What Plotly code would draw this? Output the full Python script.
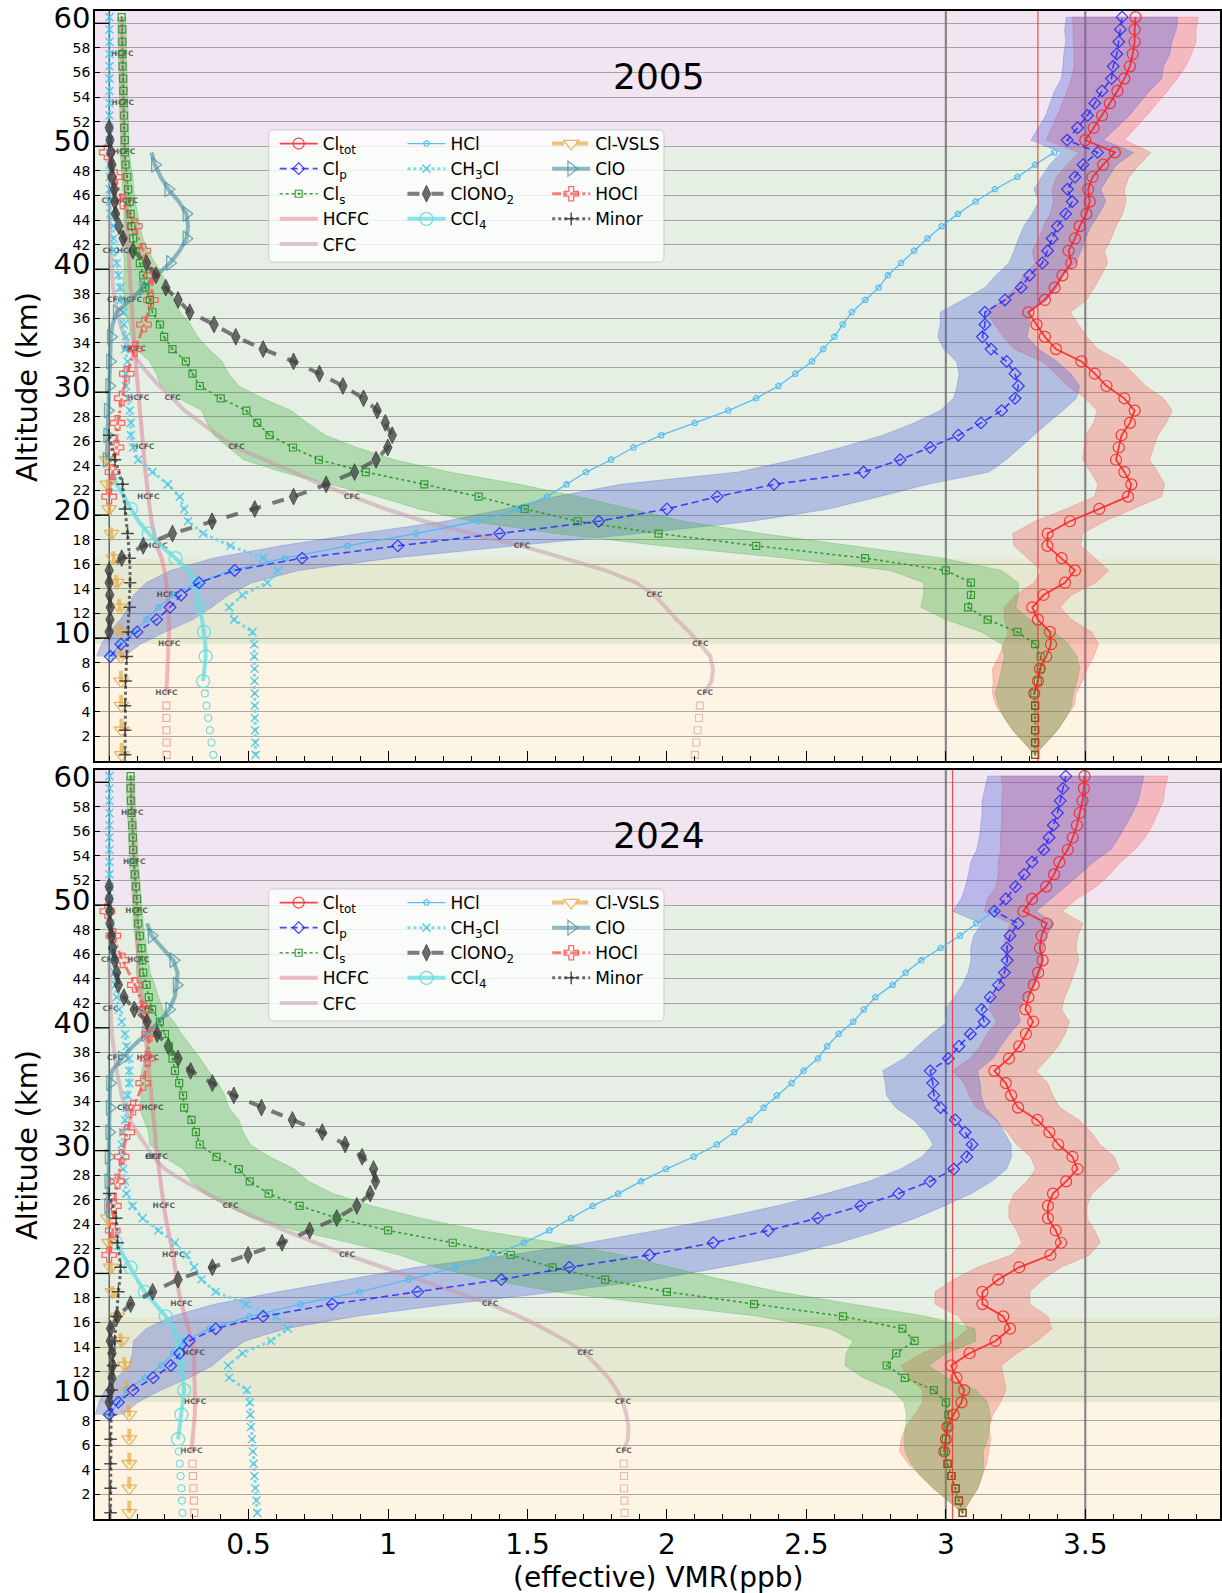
import plotly.graph_objects as go

# ---------------- altitude grid (km) ----------------
ALT = [0.5, 1.5, 2.5, 3.5, 4.5, 5.5, 6.5, 7.5, 8.5, 9.5,
       10.5, 11.5, 12.5, 13.5, 14.5, 15.5, 16.5, 17.5, 18.5, 19.5,
       20.5, 21.5, 22.5, 23.5, 24.5, 25.5, 26.5, 27.5, 28.5, 29.5,
       30.5, 31.5, 32.5, 33.5, 34.5, 35.5, 36.5, 37.5, 38.5, 39.5,
       40.5, 41.5, 42.5, 43.5, 44.5, 45.5, 46.5, 47.5, 48.5, 49.5,
       50.5, 51.5, 52.5, 53.5, 54.5, 55.5, 56.5, 57.5, 58.5, 59.5, 60.5]

X_TICKS = [0.5, 1, 1.5, 2, 2.5, 3, 3.5]
X_TICK_TEXT = ["0.5", "1", "1.5", "2", "2.5", "3", "3.5"]
Y_TICKS = [2, 4, 6, 8, 10, 12, 14, 16, 18, 20, 22, 24, 26, 28, 30,
           32, 34, 36, 38, 40, 42, 44, 46, 48, 50, 52, 54, 56, 58, 60]
YEARS = ["2005", "2024"]
REF_LINES = [3.0, 3.5]
RED_LINE = [3.33, 3.024]

# ---------------- 2005 ----------------
CLTOT_05 = [3.32, 3.32, 3.32, 3.32, 3.32, 3.317, 3.33, 3.337, 3.36, 3.377,
            3.373, 3.33, 3.31, 3.35, 3.427, 3.463, 3.415, 3.364, 3.365, 3.445,
            3.55, 3.653, 3.665, 3.64, 3.61, 3.62, 3.63, 3.66, 3.677, 3.64,
            3.576, 3.534, 3.486, 3.395, 3.355, 3.325, 3.296, 3.355, 3.39, 3.418,
            3.45, 3.44, 3.463, 3.48, 3.504, 3.516, 3.51, 3.526, 3.564, 3.606,
            3.50, 3.53, 3.56, 3.588, 3.615, 3.64, 3.66, 3.67, 3.677, 3.677, 3.68]
CLTOT_ERR_05 = [0.0, 0.04, 0.08, 0.11, 0.14, 0.15, 0.16, 0.17, 0.17, 0.17,
                0.15, 0.12, 0.1, 0.1, 0.11, 0.12, 0.12, 0.12, 0.125, 0.125,
                0.12, 0.12, 0.12, 0.12, 0.12, 0.125, 0.13, 0.13, 0.135, 0.14,
                0.14, 0.14, 0.14, 0.15, 0.15, 0.15, 0.15, 0.15, 0.14, 0.14,
                0.13, 0.13, 0.13, 0.13, 0.13, 0.13, 0.13, 0.13, 0.13, 0.13,
                0.14, 0.15, 0.16, 0.17, 0.18, 0.19, 0.2, 0.21, 0.22, 0.22, 0.225]
CLP_05 = [0.004, 0.042, 0.1, 0.17, 0.218, 0.258, 0.322, 0.45, 0.692, 1.035,
          1.40, 1.755, 2.0, 2.18, 2.384, 2.705, 2.836, 2.944, 3.045, 3.126,
          3.2, 3.248, 3.26, 3.248, 3.218, 3.162, 3.131, 3.14, 3.14, 3.212,
          3.27, 3.30, 3.346, 3.365, 3.381, 3.40, 3.43, 3.453, 3.436, 3.463,
          3.492, 3.544, 3.435, 3.472, 3.508, 3.534, 3.56, 3.594, 3.60, 3.613,
          3.62, 3.626, 3.632]
CLP_ERR_05 = [0.05, 0.07, 0.1, 0.13, 0.15, 0.17, 0.19, 0.23, 0.32, 0.42,
              0.5, 0.55, 0.58, 0.58, 0.55, 0.45, 0.38, 0.32, 0.27, 0.24,
              0.22, 0.22, 0.22, 0.2, 0.18, 0.17, 0.16, 0.16, 0.16, 0.15,
              0.13, 0.12, 0.12, 0.12, 0.12, 0.12, 0.12, 0.12, 0.12, 0.12,
              0.12, 0.13, 0.13, 0.14, 0.15, 0.16, 0.17, 0.18, 0.18, 0.19,
              0.19, 0.2, 0.2]
CLS_05 = [3.32, 3.32, 3.32, 3.32, 3.32, 3.317, 3.33, 3.34, 3.34, 3.32,
          3.257, 3.15, 3.08, 3.09, 3.09, 3.0, 2.71, 2.32, 1.97, 1.68,
          1.49, 1.325, 1.13, 0.92, 0.752, 0.659, 0.575, 0.531, 0.492, 0.40,
          0.325, 0.299, 0.275, 0.227, 0.197, 0.182, 0.155, 0.146, 0.13, 0.122,
          0.11, 0.095, 0.086, 0.08, 0.077, 0.074, 0.068, 0.065, 0.059, 0.056,
          0.056, 0.054, 0.053, 0.052, 0.051, 0.05, 0.048, 0.047, 0.047, 0.047, 0.045]
CLS_ERR_05 = [0.0, 0.04, 0.08, 0.11, 0.13, 0.14, 0.14, 0.14, 0.13, 0.12,
              0.13, 0.15, 0.17, 0.17, 0.17, 0.2, 0.28, 0.34, 0.37, 0.38,
              0.38, 0.36, 0.34, 0.3, 0.27, 0.23, 0.2, 0.18, 0.16, 0.15,
              0.14, 0.13, 0.13, 0.13, 0.12, 0.11, 0.1, 0.09, 0.08, 0.07,
              0.055, 0.045, 0.035, 0.03, 0.025, 0.02, 0.02, 0.02, 0.018, 0.017,
              0.015, 0.015, 0.015, 0.015, 0.015, 0.015, 0.015, 0.015, 0.015, 0.015, 0.015]
HCL_05 = [0.005, 0.04, 0.09, 0.134, 0.176, 0.23, 0.32, 0.44, 0.63, 0.855,
          1.1, 1.32, 1.47, 1.57, 1.64, 1.71, 1.80, 1.88, 1.98, 2.10,
          2.22, 2.32, 2.40, 2.46, 2.52, 2.56, 2.60, 2.63, 2.663, 2.711,
          2.759, 2.792, 2.839, 2.886, 2.934, 2.985, 3.043, 3.107, 3.176, 3.257,
          3.32, 3.389]
CH3CL_05 = [0.525, 0.524, 0.523, 0.522, 0.522, 0.522, 0.521, 0.521, 0.52, 0.52,
            0.514, 0.448, 0.43, 0.478, 0.567, 0.605, 0.552, 0.435, 0.337, 0.283,
            0.269, 0.253, 0.21, 0.155, 0.104, 0.086, 0.078, 0.078, 0.074, 0.068,
            0.06, 0.06, 0.066, 0.057, 0.06, 0.053, 0.051, 0.042, 0.039, 0.033,
            0.027, 0.015, 0.016, 0.014, 0.005, 0.002, 0.002, 0.002, 0.002, 0.002,
            0.001, 0.001, 0.001, 0.001, 0.001, 0.001, 0.001, 0.001, 0.001, 0.001, 0.001]
CLONO2_05 = [0.0, 0.003, 0.004, 0.002, 0.0, 0.0, 0.045, 0.122, 0.227, 0.369,
             0.522, 0.661, 0.778, 0.88, 0.957, 0.999, 1.015, 0.99, 0.961, 0.912,
             0.838, 0.754, 0.661, 0.552, 0.454, 0.376, 0.289, 0.247, 0.203, 0.168,
             0.134, 0.085, 0.05, 0.035, 0.023, 0.02, 0.018, 0.011, 0.01, 0.006,
             0.003, 0.0]
CCL4_05 = [0.337, 0.343, 0.346, 0.345, 0.34, 0.333, 0.325, 0.318, 0.31, 0.285,
           0.238, 0.185, 0.142, 0.105, 0.078, 0.05, 0.027, 0.012]
CCL4_SURF_05 = [0.373, 0.367, 0.361, 0.355, 0.349, 0.343]
VSLS_05 = [0.045, 0.045, 0.045, 0.045, 0.044, 0.044, 0.043, 0.042, 0.041, 0.04,
           0.039, 0.038, 0.038, 0.033, 0.027, 0.021, 0.015, 0.011, 0.008, 0.004,
           0.0, -0.003, -0.006, -0.008, -0.009]
CLO_05 = [-0.009, -0.008, -0.007, -0.006, -0.005, -0.002, 0.0, 0.002, 0.003, 0.004,
          0.006, 0.012, 0.027, 0.075, 0.122, 0.17, 0.218, 0.253, 0.277, 0.283,
          0.277, 0.25, 0.212, 0.185, 0.164, 0.152]
HOCL_05 = [0.0, 0.006, 0.012, 0.02, 0.026, 0.028, 0.03, 0.038, 0.045, 0.055,
           0.063, 0.078, 0.092, 0.11, 0.125, 0.14, 0.15, 0.155, 0.152, 0.135,
           0.122, 0.105, 0.092, 0.07, 0.048, 0.034, 0.021, 0.006, -0.009]
MINOR_05 = [0.057, 0.057, 0.057, 0.057, 0.057, 0.058, 0.059, 0.061, 0.063, 0.066,
            0.069, 0.071, 0.073, 0.074, 0.075, 0.075, 0.073, 0.07, 0.066, 0.062,
            0.057, 0.053, 0.048, 0.035, 0.021, 0.01, 0.0]
HCFC_05 = [0.205, 0.207, 0.21, 0.213, 0.215, 0.215, 0.214, 0.212, 0.21, 0.205,
           0.198, 0.188, 0.17, 0.16, 0.152, 0.146, 0.14, 0.135, 0.13, 0.126,
           0.122, 0.118, 0.113, 0.108, 0.104, 0.1, 0.097, 0.094, 0.091, 0.088,
           0.085, 0.082, 0.078, 0.075, 0.072, 0.069, 0.067, 0.066, 0.065, 0.064,
           0.063, 0.061, 0.058, 0.055, 0.053, 0.052, 0.051, 0.05, 0.049, 0.049,
           0.048, 0.048, 0.047, 0.047, 0.046, 0.046]
HCFC_SURF_05 = [0.206, 0.206, 0.205, 0.205, 0.205]
CFC_05 = [2.136, 2.16, 2.165, 2.155, 2.12, 2.08, 2.035, 1.995, 1.955, 1.89,
          1.78, 1.63, 1.48, 1.3, 1.13, 0.99, 0.87, 0.76, 0.66, 0.56,
          0.456, 0.39, 0.33, 0.27, 0.227, 0.18, 0.14, 0.105, 0.075, 0.055,
          0.04, 0.03, 0.021, 0.014, 0.01, 0.007, 0.005, 0.004, 0.003, 0.002,
          0.001, 0.0]
CFC_SURF_05 = [2.10, 2.105, 2.11, 2.115, 2.118]

# ---------------- 2024 ----------------
CLTOT_24 = [3.06, 3.047, 3.035, 3.02, 3.006, 2.994, 3.0, 3.006, 3.028, 3.056,
            3.066, 3.038, 3.019, 3.085, 3.178, 3.23, 3.206, 3.131, 3.131, 3.188,
            3.263, 3.375, 3.413, 3.394, 3.366, 3.366, 3.384, 3.431, 3.472, 3.454,
            3.403, 3.371, 3.328, 3.259, 3.234, 3.215, 3.174, 3.226, 3.263, 3.287,
            3.313, 3.285, 3.296, 3.315, 3.331, 3.347, 3.337, 3.343, 3.362, 3.278,
            3.309, 3.36, 3.388, 3.407, 3.437, 3.455, 3.47, 3.48, 3.49, 3.495, 3.497]
CLTOT_ERR_24 = [0.0, 0.04, 0.08, 0.11, 0.14, 0.16, 0.16, 0.15, 0.14, 0.14,
                0.15, 0.17, 0.18, 0.17, 0.15, 0.15, 0.16, 0.17, 0.17, 0.16,
                0.15, 0.14, 0.14, 0.14, 0.14, 0.14, 0.14, 0.14, 0.15, 0.15,
                0.15, 0.15, 0.15, 0.15, 0.15, 0.15, 0.15, 0.14, 0.14, 0.14,
                0.13, 0.13, 0.13, 0.13, 0.13, 0.13, 0.13, 0.13, 0.13, 0.14,
                0.16, 0.18, 0.2, 0.22, 0.24, 0.26, 0.27, 0.28, 0.29, 0.29, 0.3]
CLP_24 = [0.0, 0.033, 0.086, 0.158, 0.221, 0.253, 0.287, 0.382, 0.552, 0.80,
          1.106, 1.406, 1.65, 1.937, 2.166, 2.363, 2.541, 2.694, 2.831, 2.944,
          3.028, 3.075, 3.094, 3.069, 3.034, 2.981, 2.957, 2.953, 2.944, 3.009,
          3.047, 3.088, 3.137, 3.128, 3.159, 3.189, 3.21, 3.22, 3.219, 3.23,
          3.259, 3.174, 3.215, 3.25, 3.281, 3.309, 3.351, 3.37, 3.385, 3.40,
          3.41, 3.42, 3.43]
CLP_ERR_24 = [0.05, 0.07, 0.1, 0.13, 0.15, 0.17, 0.2, 0.25, 0.33, 0.42,
              0.5, 0.55, 0.55, 0.5, 0.45, 0.4, 0.35, 0.3, 0.26, 0.22,
              0.19, 0.16, 0.14, 0.14, 0.15, 0.16, 0.17, 0.17, 0.17, 0.16,
              0.15, 0.14, 0.13, 0.13, 0.13, 0.13, 0.13, 0.13, 0.13, 0.13,
              0.13, 0.15, 0.16, 0.18, 0.2, 0.22, 0.24, 0.25, 0.26, 0.27,
              0.28, 0.28, 0.28]
CLS_24 = [3.06, 3.047, 3.035, 3.02, 3.006, 2.994, 3.0, 3.006, 3.009, 3.0,
          2.957, 2.853, 2.788, 2.822, 2.888, 2.844, 2.631, 2.312, 2.0, 1.778,
          1.59, 1.44, 1.232, 1.0, 0.816, 0.683, 0.572, 0.504, 0.465, 0.385,
          0.325, 0.311, 0.295, 0.269, 0.265, 0.251, 0.236, 0.227, 0.214, 0.2,
          0.182, 0.154, 0.142, 0.134, 0.122, 0.119, 0.116, 0.11, 0.104, 0.102,
          0.1, 0.096, 0.092, 0.088, 0.086, 0.085, 0.083, 0.08, 0.078, 0.077, 0.077]
CLS_ERR_24 = [0.0, 0.04, 0.08, 0.11, 0.13, 0.14, 0.15, 0.15, 0.15, 0.15,
              0.15, 0.15, 0.15, 0.18, 0.22, 0.26, 0.3, 0.36, 0.4, 0.42,
              0.42, 0.4, 0.37, 0.33, 0.3, 0.26, 0.23, 0.21, 0.2, 0.19,
              0.18, 0.17, 0.17, 0.16, 0.15, 0.14, 0.12, 0.1, 0.08, 0.06,
              0.05, 0.04, 0.035, 0.03, 0.025, 0.02, 0.018, 0.018, 0.018, 0.017,
              0.017, 0.016, 0.016, 0.016, 0.015, 0.015, 0.015, 0.015, 0.015, 0.015, 0.015]
HCL_24 = [0.0, 0.03, 0.063, 0.128, 0.188, 0.23, 0.27, 0.361, 0.504, 0.686,
          0.898, 1.074, 1.241, 1.378, 1.487, 1.579, 1.656, 1.734, 1.825, 1.907,
          1.997, 2.096, 2.179, 2.241, 2.297, 2.347, 2.394, 2.447, 2.49, 2.541,
          2.574, 2.616, 2.668, 2.706, 2.747, 2.809, 2.856, 2.912, 2.981, 3.051,
          3.109, 3.172]
CH3CL_24 = [0.531, 0.528, 0.524, 0.521, 0.518, 0.515, 0.512, 0.508, 0.506, 0.504,
            0.494, 0.43, 0.426, 0.478, 0.58, 0.641, 0.6, 0.49, 0.382, 0.331,
            0.305, 0.277, 0.236, 0.176, 0.12, 0.084, 0.062, 0.057, 0.05, 0.047,
            0.045, 0.05, 0.057, 0.062, 0.065, 0.072, 0.072, 0.072, 0.062, 0.057,
            0.045, 0.035, 0.027, 0.023, 0.02, 0.015, 0.012, 0.008, 0.005, 0.002,
            0.001, 0.001, 0.001, 0.001, 0.001, 0.001, 0.001, 0.001, 0.001, 0.001, 0.001]
CLONO2_24 = [0.0, 0.005, 0.01, 0.012, 0.01, 0.004, 0.005, 0.029, 0.077, 0.156,
             0.247, 0.37, 0.498, 0.62, 0.719, 0.816, 0.888, 0.936, 0.955, 0.948,
             0.907, 0.846, 0.764, 0.657, 0.546, 0.447, 0.37, 0.292, 0.247, 0.212,
             0.172, 0.136, 0.09, 0.053, 0.033, 0.027, 0.02, 0.012, 0.009, 0.003,
             0.002, 0.0, 0.0]
CCL4_24 = [0.247, 0.253, 0.259, 0.264, 0.269, 0.263, 0.256, 0.252, 0.247, 0.23,
           0.203, 0.165, 0.128, 0.1, 0.077, 0.05, 0.024]
CCL4_SURF_24 = [0.263, 0.261, 0.259, 0.256, 0.253, 0.25]
VSLS_24 = [0.072, 0.072, 0.072, 0.072, 0.072, 0.072, 0.072, 0.072, 0.072, 0.068,
           0.063, 0.06, 0.057, 0.051, 0.045, 0.037, 0.029, 0.02, 0.012, 0.009,
           0.006, 0.003, 0.0, -0.003, -0.005]
CLO_24 = [-0.005, -0.004, -0.004, -0.003, -0.003, -0.002, -0.001, 0.0, 0.001, 0.002,
          0.002, 0.003, 0.01, 0.045, 0.085, 0.13, 0.18, 0.215, 0.235, 0.242,
          0.245, 0.23, 0.19, 0.152, 0.136]
HOCL_24 = [0.0, 0.007, 0.013, 0.015, 0.017, 0.023, 0.03, 0.037, 0.045, 0.055,
           0.065, 0.075, 0.086, 0.105, 0.122, 0.13, 0.138, 0.142, 0.145, 0.138,
           0.125, 0.11, 0.092, 0.07, 0.048, 0.03, 0.015, 0.004, -0.007]
MINOR_24 = [0.005, 0.005, 0.005, 0.005, 0.005, 0.005, 0.005, 0.005, 0.006, 0.007,
            0.009, 0.011, 0.014, 0.017, 0.02, 0.023, 0.026, 0.03, 0.033, 0.038,
            0.041, 0.036, 0.03, 0.028, 0.025, 0.012, 0.0]
HCFC_24 = [0.295, 0.3, 0.305, 0.307, 0.308, 0.308, 0.307, 0.305, 0.303, 0.295,
           0.285, 0.272, 0.259, 0.25, 0.242, 0.236, 0.23, 0.22, 0.21, 0.203,
           0.196, 0.19, 0.183, 0.176, 0.17, 0.167, 0.164, 0.16, 0.155, 0.15,
           0.146, 0.142, 0.138, 0.134, 0.13, 0.127, 0.122, 0.117, 0.112, 0.107,
           0.104, 0.102, 0.1, 0.099, 0.098, 0.096, 0.094, 0.092, 0.09, 0.088,
           0.086, 0.085, 0.083, 0.082, 0.081, 0.08]
HCFC_SURF_24 = [0.305, 0.304, 0.302, 0.3, 0.299]
CFC_24 = [1.845, 1.86, 1.862, 1.855, 1.842, 1.82, 1.79, 1.75, 1.707, 1.64,
          1.56, 1.47, 1.366, 1.24, 1.11, 0.98, 0.853, 0.74, 0.63, 0.53,
          0.435, 0.35, 0.27, 0.2, 0.157, 0.13, 0.1, 0.075, 0.057, 0.045,
          0.035, 0.027, 0.021, 0.015, 0.01, 0.007, 0.005, 0.003, 0.002, 0.001,
          0.0]
CFC_SURF_24 = [1.848, 1.847, 1.846, 1.846, 1.845]

# ---------------- helpers ----------------
fig = go.Figure()
AX = [("x", "y"), ("x2", "y2")]
LEGS = [("legend", "legend2", "legend3"), ("legend4", "legend5", "legend6")]


def alts(start, vals):
    i = ALT.index(start)
    return ALT[i:i + len(vals)]


def band(p, start, center, err, fill, edge):
    a = alts(start, center)
    lo = [c - e for c, e in zip(center, err)]
    hi = [c + e for c, e in zip(center, err)]
    fig.add_trace(go.Scatter(x=lo + hi[::-1], y=a + a[::-1], mode="lines", fill="toself",
                             fillcolor=fill, line=dict(color=edge, width=0.8),
                             hoverinfo="skip", showlegend=False,
                             xaxis=AX[p][0], yaxis=AX[p][1]))


def curve(p, start, vals, line, marker=None, step=1, m0=None):
    a = alts(start, vals)
    fig.add_trace(go.Scatter(x=vals, y=a, mode="lines", line=line, showlegend=False,
                             hoverinfo="skip", xaxis=AX[p][0], yaxis=AX[p][1]))
    if marker is not None:
        m0 = start if m0 is None else m0
        mx = [v for al, v in zip(a, vals) if al >= m0 and round(al - m0) % step == 0]
        my = [al for al in a if al >= m0 and round(al - m0) % step == 0]
        fig.add_trace(go.Scatter(x=mx, y=my, mode="markers", marker=marker, showlegend=False,
                                 hoverinfo="skip", xaxis=AX[p][0], yaxis=AX[p][1]))


def points(p, start, vals, marker):
    a = alts(start, vals)
    fig.add_trace(go.Scatter(x=vals, y=a, mode="markers", marker=marker, showlegend=False,
                             hoverinfo="skip", xaxis=AX[p][0], yaxis=AX[p][1]))


def labels(p, start, vals, txt, step=4):
    a = alts(start, vals)
    fig.add_trace(go.Scatter(x=[v for i, v in enumerate(vals) if i % step == 0],
                             y=[al for i, al in enumerate(a) if i % step == 0],
                             mode="text", text="<b>" + txt + "</b>",
                             textfont=dict(family="DejaVu Sans", size=7.5, color="rgba(70,70,70,0.85)"),
                             textposition="middle center", showlegend=False, hoverinfo="skip",
                             xaxis=AX[p][0], yaxis=AX[p][1]))


def mk(sym, size, color, lw=1.2, fill=None):
    return dict(symbol=sym, size=size, color=fill if fill else color,
                line=dict(color=color, width=lw))


# styles
L_TOT = dict(color="rgba(255,30,30,0.85)", width=1.8)
M_TOT = mk("circle-open", 11, "rgba(255,30,30,0.85)")
L_P = dict(color="rgba(40,40,255,0.85)", width=1.6, dash="7px,4px")
M_P = mk("diamond-open", 9, "rgba(40,40,255,0.9)")
L_S = dict(color="rgba(40,150,40,0.9)", width=1.6, dash="dot")
M_S = mk("square-open-dot", 7, "rgba(40,150,40,0.9)")
L_HCL = dict(color="rgba(80,185,245,0.95)", width=1.3)
M_HCL = mk("pentagon-open", 6, "rgba(80,185,245,0.95)")
L_CH3 = dict(color="rgba(95,210,235,0.8)", width=3, dash="dot")
M_CH3 = mk("x-thin-open", 8, "rgba(80,200,230,0.9)", 1.5)
L_NO2 = dict(color="rgba(70,70,70,0.7)", width=4, dash="dash")
M_NO2 = mk("diamond-tall", 12, "rgba(60,60,60,0.75)", 1, "rgba(60,60,60,0.75)")
L_CCL4 = dict(color="rgba(100,220,225,0.75)", width=4)
M_CCL4 = mk("circle-open", 13, "rgba(100,220,225,0.9)", 1.3)
L_VSLS = dict(color="rgba(232,170,70,0.7)", width=4, dash="dash")
M_VSLS = mk("triangle-down-open", 13, "rgba(232,170,70,0.85)", 1.3)
L_CLO = dict(color="rgba(70,140,160,0.6)", width=4)
M_CLO = mk("triangle-right-open", 13, "rgba(70,140,160,0.7)", 1.3)
L_HOCL = dict(color="rgba(255,80,80,0.75)", width=3, dash="dashdot")
M_HOCL = mk("cross-open", 12, "rgba(255,80,80,0.85)", 1.3)
L_MIN = dict(color="rgba(60,60,60,0.75)", width=3, dash="dot")
M_MIN = mk("cross-thin-open", 9, "rgba(50,50,50,0.85)", 1.5)
L_HCFC = dict(color="rgba(225,120,145,0.5)", width=4)
L_CFC = dict(color="rgba(200,150,165,0.5)", width=4)
M_SQ_PINK = mk("square-open", 7, "rgba(235,130,140,0.7)", 1.1)
M_SQ_CFC = mk("square-open", 7, "rgba(215,160,170,0.7)", 1.1)
M_SQ_TOT = mk("square-open", 7, "rgba(200,40,20,0.9)", 1.2)
M_CI_SURF = mk("circle-open", 7, "rgba(90,210,225,0.85)", 1.1)

PANELS = [
    dict(tot=CLTOT_05, tote=CLTOT_ERR_05, p=CLP_05, pe=CLP_ERR_05, s=CLS_05, se=CLS_ERR_05,
         hcl=HCL_05, ch3=CH3CL_05, no2=CLONO2_05, no2s=10.5, ccl4=CCL4_05, ccl4s=CCL4_SURF_05,
         vsls=VSLS_05, clo=CLO_05, clos=24.5, clom=24.5, hocl=HOCL_05, minor=MINOR_05,
         hcfc=HCFC_05, hcfcs=HCFC_SURF_05, cfc=CFC_05, cfcs=CFC_SURF_05),
    dict(tot=CLTOT_24, tote=CLTOT_ERR_24, p=CLP_24, pe=CLP_ERR_24, s=CLS_24, se=CLS_ERR_24,
         hcl=HCL_24, ch3=CH3CL_24, no2=CLONO2_24, no2s=9.5, ccl4=CCL4_24, ccl4s=CCL4_SURF_24,
         vsls=VSLS_24, clo=CLO_24, clos=24.5, clom=25.5, hocl=HOCL_24, minor=MINOR_24,
         hcfc=HCFC_24, hcfcs=HCFC_SURF_24, cfc=CFC_24, cfcs=CFC_SURF_24),
]

for p, d in enumerate(PANELS):
    band(p, 0.5, d["tot"], d["tote"], "rgba(250,80,80,0.3)", "rgba(250,80,80,0.35)")
    band(p, 8.5, d["p"], d["pe"], "rgba(70,90,220,0.32)", "rgba(70,90,220,0.35)")
    band(p, 0.5, d["s"], d["se"], "rgba(60,170,60,0.3)", "rgba(60,170,60,0.35)")
    curve(p, 5.5, d["cfc"], L_CFC)
    labels(p, 5.5, d["cfc"], "CFC")
    points(p, 0.5, d["cfcs"], M_SQ_CFC)
    curve(p, 5.5, d["hcfc"], L_HCFC)
    labels(p, 5.5, d["hcfc"], "HCFC")
    points(p, 0.5, d["hcfcs"], M_SQ_PINK)
    curve(p, 0.5, d["ch3"], L_CH3, M_CH3)
    curve(p, 6.5, d["ccl4"], L_CCL4, M_CCL4, 2)
    points(p, 0.5, d["ccl4s"], M_CI_SURF)
    curve(p, 0.5, d["vsls"], L_VSLS, M_VSLS, 2)
    curve(p, d["clos"], d["clo"], L_CLO, M_CLO, 2, d["clom"])
    curve(p, 21.5, d["hocl"], L_HOCL, M_HOCL, 2)
    curve(p, 0.5, d["minor"], L_MIN, M_MIN, 2)
    curve(p, d["no2s"], d["no2"], L_NO2, M_NO2)
    curve(p, 8.5, d["hcl"], L_HCL, M_HCL)
    curve(p, 0.5, d["s"], L_S, M_S)
    curve(p, 8.5, d["p"], L_P, M_P)
    curve(p, 5.5, d["tot"][5:], L_TOT, M_TOT)
    points(p, 0.5, d["tot"][:5], M_SQ_TOT)

    entries = [
        (0, "Cl<sub>tot</sub>", L_TOT, M_TOT), (0, "Cl<sub>p</sub>", L_P, M_P),
        (0, "Cl<sub>s</sub>", L_S, M_S), (0, "HCFC", L_HCFC, None), (0, "CFC", L_CFC, None),
        (1, "HCl", L_HCL, M_HCL), (1, "CH<sub>3</sub>Cl", L_CH3, M_CH3),
        (1, "ClONO<sub>2</sub>", L_NO2, M_NO2), (1, "CCl<sub>4</sub>", L_CCL4, M_CCL4),
        (2, "Cl-VSLS", L_VSLS, M_VSLS), (2, "ClO", L_CLO, M_CLO),
        (2, "HOCl", L_HOCL, M_HOCL), (2, "Minor", L_MIN, M_MIN),
    ]
    for col, name, ln, m in entries:
        kw = dict(marker=m) if m else {}
        fig.add_trace(go.Scatter(x=[None], y=[None], mode="lines+markers" if m else "lines",
                                 name=name, line=ln, legend=LEGS[p][col], showlegend=True,
                                 xaxis=AX[p][0], yaxis=AX[p][1], **kw))

# ---------------- layout ----------------
PX_L, PX_R, PX_T, PX_B, H = 95, 1222, 11, 1519, 1593
W_PLOT = PX_R - PX_L
H_PLOT = PX_B - PX_T


def px_x(px):
    return (px - PX_L) / W_PLOT


def px_y(py):
    return (PX_B - py) / H_PLOT


TOP_DOM = [px_y(761), 1.0]
BOT_DOM = [0.0, px_y(770)]

ytext = [('<span style="font-size:29px">%d</span>' % v) if v % 10 == 0 else str(v) for v in Y_TICKS]


def xaxis(anchor, show_labels):
    return dict(anchor=anchor, domain=[0, 1], range=[-0.0508, 3.983],
                tickvals=X_TICKS, ticktext=X_TICK_TEXT, showticklabels=show_labels,
                ticks="inside", ticklen=10, tickwidth=1.3, tickcolor="black",
                minor=dict(tickmode="linear", tick0=0, dtick=0.1, ticks="inside", ticklen=5,
                           tickwidth=1, tickcolor="black"),
                tickfont=dict(size=28, family="DejaVu Sans"),
                showline=True, linecolor="black", linewidth=1.5, mirror=True,
                showgrid=False, zeroline=False)


def yaxis(dom, anchor):
    return dict(anchor=anchor, domain=dom, range=[0, 61], tickvals=Y_TICKS, ticktext=ytext,
                ticks="inside", ticklen=5, tickwidth=1.2, tickcolor="black",
                tickfont=dict(size=14, family="DejaVu Sans"),
                showgrid=True, gridcolor="rgba(115,115,115,0.6)", gridwidth=1.4,
                showline=True, linecolor="black", linewidth=1.5, mirror=True, zeroline=False)


shapes = []
for p in range(2):
    xa, ya = AX[p]
    for y0, y1, c in [(0, 9.5, "#fdf4e4"), (9.5, 16.5, "#e6e9d1"), (16.5, 50, "#e5efe3"), (50, 61, "#f1e5f1")]:
        shapes.append(dict(type="rect", xref=xa, yref=ya, x0=-0.0508, x1=3.983, y0=y0, y1=y1,
                           fillcolor=c, line=dict(width=0), layer="below"))
    for xv in REF_LINES:
        shapes.append(dict(type="line", xref=xa, yref=ya, x0=xv, x1=xv, y0=0, y1=61,
                           line=dict(color="rgba(130,130,130,0.95)", width=2.2), layer="below"))
    shapes.append(dict(type="line", xref=xa, yref=ya, x0=0, x1=0, y0=0, y1=61,
                       line=dict(color="rgba(0,0,0,0.85)", width=1), layer="below"))
    shapes.append(dict(type="line", xref=xa, yref=ya, x0=RED_LINE[p], x1=RED_LINE[p],
                       y0=0, y1=61, line=dict(color="rgba(240,50,50,0.85)", width=1.2), layer="above"))
    for yv in [10, 20, 30, 40, 50, 60]:
        shapes.append(dict(type="line", xref=xa, yref=ya, x0=-0.0508, x1=-0.0508 + 14 / 279.4,
                           y0=yv, y1=yv, line=dict(color="black", width=1.3), layer="above"))


def rounded(x0p, y0p, x1p, y1p, r=5):
    x0, x1, y0, y1 = px_x(x0p), px_x(x1p), px_y(y1p), px_y(y0p)
    rx, ry = r / W_PLOT, r / H_PLOT
    return ("M %f,%f L %f,%f Q %f,%f %f,%f L %f,%f Q %f,%f %f,%f L %f,%f Q %f,%f %f,%f "
            "L %f,%f Q %f,%f %f,%f Z" % (
                x0 + rx, y0, x1 - rx, y0, x1, y0, x1, y0 + ry, x1, y1 - ry, x1, y1, x1 - rx, y1,
                x0 + rx, y1, x0, y1, x0, y1 - ry, x0, y0 + ry, x0, y0, x0 + rx, y0))


for (top, bot) in [(130, 262), (889, 1021)]:
    shapes.append(dict(type="path", xref="paper", yref="paper", path=rounded(269, top, 665, bot),
                       fillcolor="rgba(255,255,255,0.8)",
                       line=dict(color="rgba(200,200,200,0.9)", width=1), layer="above"))

legend_common = dict(xanchor="left", yanchor="top", bgcolor="rgba(0,0,0,0)", borderwidth=0,
                     font=dict(size=17, family="DejaVu Sans", color="black"), itemwidth=38,
                     tracegroupgap=0, traceorder="normal")
legs = {}
for p, ytop in enumerate([126, 885]):
    for c, xleft in enumerate([275, 403, 548]):
        legs[LEGS[p][c]] = dict(legend_common, x=px_x(xleft), y=px_y(ytop))

annotations = [
    dict(text=YEARS[0], x=px_x(660), y=px_y(76), xref="paper", yref="paper", showarrow=False,
         xanchor="center", yanchor="middle", font=dict(size=36, family="DejaVu Sans", color="black")),
    dict(text=YEARS[1], x=px_x(660), y=px_y(835), xref="paper", yref="paper", showarrow=False,
         xanchor="center", yanchor="middle", font=dict(size=36, family="DejaVu Sans", color="black")),
    dict(text="Altitude (km)", x=px_x(27), y=px_y(387), xref="paper", yref="paper", showarrow=False,
         xanchor="center", yanchor="middle", textangle=-90,
         font=dict(size=29, family="DejaVu Sans", color="black")),
    dict(text="Altitude (km)", x=px_x(27), y=px_y(1145), xref="paper", yref="paper", showarrow=False,
         xanchor="center", yanchor="middle", textangle=-90,
         font=dict(size=29, family="DejaVu Sans", color="black")),
    dict(text="(effective) VMR(ppb)", x=px_x(659), y=px_y(1577), xref="paper", yref="paper",
         showarrow=False, xanchor="center", yanchor="middle",
         font=dict(size=28, family="DejaVu Sans", color="black")),
]

fig.update_layout(
    width=1222, height=H, margin=dict(l=PX_L, r=0, t=PX_T, b=H - PX_B),
    paper_bgcolor="white", plot_bgcolor="white",
    font=dict(family="DejaVu Sans", color="black"),
    xaxis=xaxis("y", False), yaxis=yaxis(TOP_DOM, "x"),
    xaxis2=xaxis("y2", True), yaxis2=yaxis(BOT_DOM, "x2"),
    shapes=shapes, annotations=annotations, **legs,
)

fig.write_html("out.html")
